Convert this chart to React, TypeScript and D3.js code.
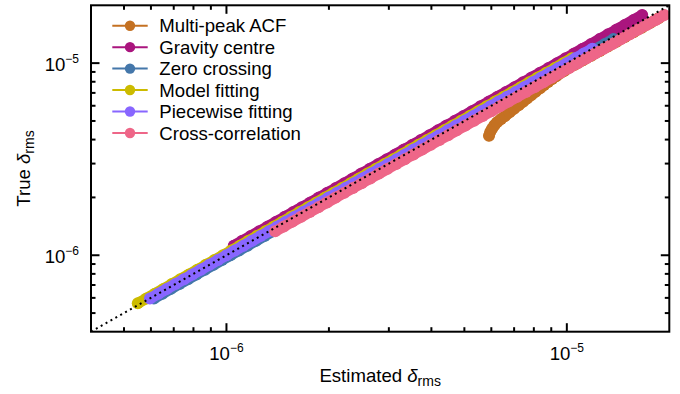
import React from "react";
import * as d3 from "d3";

// ---------- data (values in units of 1e-6) ----------
const UNIT = 1e-6;

// simulated true delta_rms grid
const trueGrid = [
  0.5623, 0.5957, 0.631, 0.6683, 0.7079, 0.7499, 0.7943, 0.8414, 0.8913, 0.9441,
  1.0, 1.0593, 1.122, 1.1885, 1.2589, 1.3335, 1.4125, 1.4962, 1.5849, 1.6788,
  1.7783, 1.8836, 1.9953, 2.1135, 2.2387, 2.3714, 2.5119, 2.6607, 2.8184, 2.9854,
  3.1623, 3.3497, 3.5481, 3.7584, 3.9811, 4.217, 4.4668, 4.7315, 5.0119, 5.3088,
  5.6234, 5.9566, 6.3096, 6.6834, 7.0795, 7.4989, 7.9433, 8.414, 8.9125, 9.4406,
  10.0, 10.593, 11.22, 11.885, 12.589, 13.335, 14.125, 14.962, 15.849, 16.788,
  17.783,
];

const seriesNames = [
  "Multi-peak ACF",
  "Gravity centre",
  "Zero crossing",
  "Model fitting",
  "Piecewise fitting",
  "Cross-correlation",
];
const seriesColors = ["#c47122", "#aa157e", "#4477aa", "#ccbb00", "#8866ff", "#ee6688"];

// Multi-peak ACF (own true values)
const acfEst = [
  5.907, 5.957, 6.03, 6.125, 6.237, 6.409, 6.584, 6.788, 6.998, 7.216, 7.439, 7.643,
  7.852, 8.096, 8.346, 8.574, 8.81, 9.052, 9.301, 9.85, 10.55, 11.15, 11.8, 12.5,
  13.2, 14.0, 14.8, 15.7, 16.6, 17.6, 18.6,
];
const acfTrue = [
  4.189, 4.378, 4.556, 4.745, 4.924, 5.116, 5.302, 5.543, 5.786, 6.035, 6.292, 6.546,
  6.805, 7.102, 7.407, 7.686, 7.976, 8.257, 8.54, 9.13, 9.8, 10.34, 10.93, 11.57,
  12.21, 12.93, 13.66, 14.48, 15.29, 16.2, 17.11,
];

// Gravity centre: trueGrid[12..60]
const gravityStart = 12;
const gravityEst = [
  1.0506, 1.1128, 1.1787, 1.2486, 1.3226, 1.4009, 1.484, 1.5719, 1.6651, 1.7637,
  1.8683, 1.9789, 2.0962, 2.2204, 2.352, 2.4913, 2.639, 2.7953, 2.961, 3.1364,
  3.3222, 3.5191, 3.7276, 3.9485, 4.1824, 4.4302, 4.6928, 4.9708, 5.2654, 5.5774,
  5.9079, 6.2579, 6.6287, 7.0215, 7.4376, 7.8783, 8.3451, 8.8396, 9.3633, 9.9185,
  10.506, 11.128, 11.787, 12.486, 13.226, 14.009, 14.84, 15.719, 16.651,
];

// Zero crossing: trueGrid[1..55]
const zeroStart = 1;
const zeroEst = [
  0.6122, 0.6485, 0.6868, 0.7275, 0.7707, 0.8163, 0.8647, 0.916, 0.9703, 1.0278,
  1.0887, 1.1531, 1.2215, 1.2938, 1.3705, 1.4517, 1.5377, 1.6289, 1.7254, 1.8276,
  1.9359, 2.0507, 2.1721, 2.3008, 2.4372, 2.5816, 2.7345, 2.8966, 3.0682, 3.2501,
  3.4427, 3.6466, 3.8627, 4.0916, 4.334, 4.5908, 4.8628, 5.151, 5.4561, 5.7794,
  6.1219, 6.4847, 6.8689, 7.276, 7.707, 8.1637, 8.6475, 9.1599, 9.7026, 10.278,
  10.887, 11.531, 12.215, 12.938, 13.705,
];

// Model fitting: trueGrid[0..51]
const modelStart = 0;
const modelEst = [
  0.549, 0.582, 0.616, 0.653, 0.691, 0.732, 0.776, 0.822, 0.87, 0.922,
  0.977, 1.034, 1.096, 1.161, 1.229, 1.302, 1.379, 1.461, 1.548, 1.639,
  1.737, 1.839, 1.949, 2.064, 2.186, 2.316, 2.453, 2.598, 2.752, 2.915,
  3.088, 3.271, 3.465, 3.67, 3.888, 4.118, 4.362, 4.621, 4.894, 5.184,
  5.492, 5.817, 6.162, 6.527, 6.914, 7.323, 7.757, 8.217, 8.704, 9.219,
  9.766, 10.345,
];

// Piecewise fitting: trueGrid[1..53]
const piecewiseStart = 1;
const piecewiseEst = [
  0.596, 0.631, 0.668, 0.708, 0.75, 0.794, 0.841, 0.891, 0.944, 1.0,
  1.059, 1.122, 1.189, 1.259, 1.334, 1.413, 1.496, 1.585, 1.679, 1.778,
  1.884, 1.995, 2.114, 2.239, 2.371, 2.512, 2.661, 2.818, 2.985, 3.162,
  3.35, 3.548, 3.758, 3.981, 4.217, 4.467, 4.732, 5.012, 5.309, 5.623,
  5.957, 6.31, 6.683, 7.08, 7.499, 7.943, 8.414, 8.913, 9.441, 10.0,
  10.59, 11.22, 11.89,
];

// Cross-correlation: trueGrid[15..60]
const crossStart = 15;
const crossEst = [
  1.3906, 1.4744, 1.5631, 1.6573, 1.757, 1.863, 1.9751, 2.0941, 2.2202, 2.3538,
  2.4957, 2.646, 2.8052, 2.9743, 3.1535, 3.3432, 3.5447, 3.7581, 3.9843, 4.2243,
  4.4789, 4.7487, 5.0348, 5.3377, 5.6592, 6.0002, 6.3616, 6.745, 7.1512, 7.5814,
  8.0381, 8.5224, 9.0358, 9.58, 10.157, 10.769, 11.418, 12.105, 12.835, 13.607,
  14.427, 15.296, 16.217, 17.195, 18.23, 19.328,
];

const axisDomain = [4e-7, 2e-5];
const majorTicks = [1e-6, 1e-5];
const majorTickExponents = ["−6", "−5"];
const minorTicks = [5e-7, 6e-7, 7e-7, 8e-7, 9e-7, 2e-6, 3e-6, 4e-6, 5e-6, 6e-6, 7e-6, 8e-6, 9e-6];

// ---------- build series ----------
type Pt = { e: number; t: number };
const gridSeries = (start: number, est: number[]): Pt[] =>
  est.map((v, i) => ({ e: v * UNIT, t: trueGrid[start + i] * UNIT }));

const seriesData: Pt[][] = [
  acfEst.map((v, i) => ({ e: v * UNIT, t: acfTrue[i] * UNIT })),
  gridSeries(gravityStart, gravityEst),
  gridSeries(zeroStart, zeroEst),
  gridSeries(modelStart, modelEst),
  gridSeries(piecewiseStart, piecewiseEst),
  gridSeries(crossStart, crossEst),
];

// ---------- layout ----------
const W = 680;
const H = 394;
const L = 91;
const R = 669.3;
const T = 5.3;
const B = 331.7;
const FONT = "'Liberation Sans', Arial, Helvetica, sans-serif";
const FS = 18.6;
const SUP = 12;
const SUB = 14;

export default function App() {
  const x = d3.scaleLog().domain(axisDomain).range([L, R]);
  const y = d3.scaleLog().domain(axisDomain).range([B, T]);
  const line = d3
    .line<Pt>()
    .x((d) => x(d.e))
    .y((d) => y(d.t))
    .curve(d3.curveMonotoneX);

  const MAJ = 8.5;
  const MIN = 4.5;
  const tickEls: React.ReactNode[] = [];
  const addTicks = (v: number, len: number, key: string) => {
    const px = x(v);
    const py = y(v);
    tickEls.push(
      <line key={key + "b"} x1={px} x2={px} y1={B} y2={B - len} />,
      <line key={key + "t"} x1={px} x2={px} y1={T} y2={T + len} />,
      <line key={key + "l"} x1={L} x2={L + len} y1={py} y2={py} />,
      <line key={key + "r"} x1={R} x2={R - len} y1={py} y2={py} />
    );
  };
  majorTicks.forEach((v, i) => addTicks(v, MAJ, "M" + i));
  minorTicks.forEach((v, i) => addTicks(v, MIN, "m" + i));

  const legendX0 = 112.3;
  const legendX1 = 147.7;
  const legendY0 = 25.7;
  const legendDy = 21.45;

  return (
    <svg
      width={W}
      height={H}
      viewBox={`0 0 ${W} ${H}`}
      style={{ position: "absolute", left: 0, top: 0, display: "block", background: "#fff" }}
      fontFamily={FONT}
    >
      <defs>
        <clipPath id="plotclip">
          <rect x={L} y={T} width={R - L} height={B - T} />
        </clipPath>
      </defs>
      <rect x={0} y={0} width={W} height={H} fill="#fff" />

      <g clipPath="url(#plotclip)">
        {seriesData.map((pts, si) => (
          <g key={si}>
            <path
              d={line(pts) || ""}
              fill="none"
              stroke={seriesColors[si]}
              strokeWidth={11}
              strokeLinecap="round"
              strokeLinejoin="round"
            />
            {pts.map((p, k) => (
              <circle key={k} cx={x(p.e)} cy={y(p.t)} r={6} fill={seriesColors[si]} />
            ))}
          </g>
        ))}
        <line
          x1={x(axisDomain[0])}
          y1={y(axisDomain[0])}
          x2={x(axisDomain[1])}
          y2={y(axisDomain[1])}
          stroke="#000"
          strokeWidth={2}
          strokeDasharray="2 3.6"
        />
      </g>

      {/* frame and ticks */}
      <g stroke="#000" strokeWidth={2}>
        {tickEls}
        <rect x={L} y={T} width={R - L} height={B - T} fill="none" />
      </g>

      {/* x tick labels */}
      {majorTicks.map((v, i) => (
        <text key={"xl" + i} x={x(v)} y={360} textAnchor="middle" fontSize={FS} fill="#000">
          <tspan>10</tspan>
          <tspan fontSize={SUP} dy={-8.5}>
            {majorTickExponents[i]}
          </tspan>
        </text>
      ))}
      {/* y tick labels */}
      {majorTicks.map((v, i) => (
        <text key={"yl" + i} x={79} y={y(v) + 7.5} textAnchor="end" fontSize={FS} fill="#000">
          <tspan>10</tspan>
          <tspan fontSize={SUP} dy={-8}>
            {majorTickExponents[i]}
          </tspan>
        </text>
      ))}

      {/* axis titles */}
      <text x={(L + R) / 2} y={382} textAnchor="middle" fontSize={FS} fill="#000">
        <tspan>Estimated </tspan>
        <tspan fontStyle="italic">δ</tspan>
        <tspan fontSize={SUB} dy={4}>
          rms
        </tspan>
      </text>
      <text
        transform={`translate(29.5, ${(T + B) / 2}) rotate(-90)`}
        textAnchor="middle"
        fontSize={FS}
        fill="#000"
      >
        <tspan>True </tspan>
        <tspan fontStyle="italic">δ</tspan>
        <tspan fontSize={SUB} dy={4}>
          rms
        </tspan>
      </text>

      {/* legend */}
      {seriesNames.map((name, i) => {
        const ly = legendY0 + i * legendDy;
        return (
          <g key={"lg" + i}>
            <line x1={legendX0} x2={legendX1} y1={ly} y2={ly} stroke={seriesColors[i]} strokeWidth={2} />
            <circle cx={(legendX0 + legendX1) / 2} cy={ly} r={5.2} fill={seriesColors[i]} />
            <text x={159.3} y={ly + 6.6} fontSize={FS} fill="#000">
              {name}
            </text>
          </g>
        );
      })}
    </svg>
  );
}
